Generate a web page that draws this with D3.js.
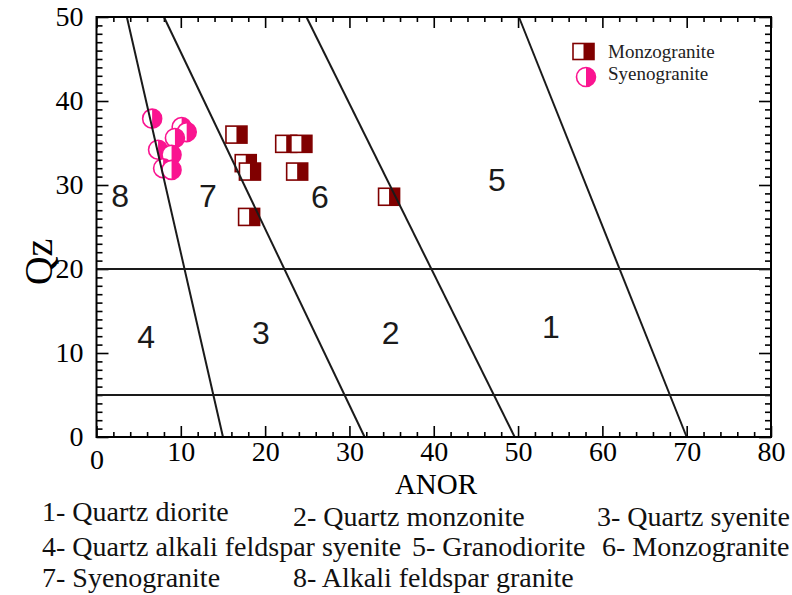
<!DOCTYPE html>
<html>
<head>
<meta charset="utf-8">
<script src="https://cdn.jsdelivr.net/npm/d3@7"></script>
<style>
  html, body { margin: 0; padding: 0; background: #fff; }
  svg { display: block; }
</style>
</head>
<body>
<svg id="chart" width="792" height="595"></svg>
<script>
// ANOR vs Qz classification diagram

// Monzogranite samples
const monzoANOR = [16.6, 22.5, 24.3, 17.7, 18.2, 23.8, 34.7, 18.1];
const monzoQz   = [36.0, 34.9, 34.9, 32.6, 31.6, 31.6, 28.6, 26.2];

// Syenogranite samples
const syenoANOR = [6.6, 10.1, 10.7, 9.3, 7.3, 8.9, 7.9, 8.9];
const syenoQz   = [37.9, 36.9, 36.3, 35.6, 34.2, 33.6, 32.0, 31.8];

// Field boundaries: ANOR where each line meets Qz = 50 and Qz = 0
const boundaryTopANOR    = [3.6, 8.0, 24.9, 50.1];
const boundaryBottomANOR = [15.0, 31.8, 49.6, 70.0];
const horizontalQz = [20, 5];

// Field numbers and their anchor points
const fieldNumbers = ["8", "7", "6", "5", "4", "3", "2", "1"];
const fieldANOR    = [2.8, 13.2, 26.5, 47.5, 5.9, 19.5, 34.9, 53.9];
const fieldQz      = [28.8, 28.8, 28.6, 30.6, 12.0, 12.4, 12.4, 13.1];

const xMajorTicks = [0, 10, 20, 30, 40, 50, 60, 70, 80];
const yMajorTicks = [0, 10, 20, 30, 40, 50];

const fieldNames = [
  "1- Quartz diorite", "2- Quartz monzonite", "3- Quartz syenite",
  "4- Quartz alkali feldspar syenite", "5- Granodiorite", "6- Monzogranite",
  "7- Syenogranite", "8- Alkali feldspar granite"
];
const seriesNames = ["Monzogranite", "Syenogranite"];

const RED = "#800000";
const PINK = "#fa1490";
const SERIF = "'Liberation Serif', 'Times New Roman', serif";
const SANS = "'Liberation Sans', Arial, sans-serif";

const svg = d3.select("#chart");
const plotL = 96.5, plotR = 771, plotT = 17, plotB = 437;

const x = d3.scaleLinear().domain([0, 80]).range([plotL, plotR]);
const y = d3.scaleLinear().domain([0, 50]).range([plotB, plotT]);

svg.append("rect").attr("width", 792).attr("height", 595).attr("fill", "#fff");

// ---- axes ----
function styleAxis(g) {
  g.select(".domain").remove();
  g.selectAll(".tick line").attr("stroke", "#000").attr("stroke-width", 1.6);
}

const xMinor = d3.range(0, 81, 2).filter(v => v % 10 !== 0);
const yMinor = d3.range(0, 51, 1).filter(v => v % 10 !== 0);

// bottom
svg.append("g").attr("transform", `translate(0,${plotB})`)
  .call(d3.axisBottom(x).tickValues(xMinor).tickSize(-5).tickFormat(""))
  .call(styleAxis);
const xAxisG = svg.append("g").attr("transform", `translate(0,${plotB})`)
  .call(d3.axisBottom(x).tickValues(xMajorTicks).tickSize(-11).tickPadding(5).tickFormat(d3.format("d")))
  .call(styleAxis);
xAxisG.selectAll("text")
  .attr("font-family", SERIF).attr("font-size", 28).attr("fill", "#000")
  .attr("y", d => d === 0 ? 12 : 4);

// top
svg.append("g").attr("transform", `translate(0,${plotT})`)
  .call(d3.axisTop(x).tickValues(xMinor).tickSize(-5).tickFormat(""))
  .call(styleAxis);
svg.append("g").attr("transform", `translate(0,${plotT})`)
  .call(d3.axisTop(x).tickValues(xMajorTicks).tickSize(-11).tickFormat(""))
  .call(styleAxis);

// left
svg.append("g").attr("transform", `translate(${plotL},0)`)
  .call(d3.axisLeft(y).tickValues(yMinor).tickSize(-6).tickFormat(""))
  .call(styleAxis);
const yAxisG = svg.append("g").attr("transform", `translate(${plotL},0)`)
  .call(d3.axisLeft(y).tickValues(yMajorTicks).tickSize(-12).tickPadding(13).tickFormat(d3.format("d")))
  .call(styleAxis);
yAxisG.selectAll("text")
  .attr("font-family", SERIF).attr("font-size", 28).attr("fill", "#000");

// right
svg.append("g").attr("transform", `translate(${plotR},0)`)
  .call(d3.axisRight(y).tickValues(yMinor).tickSize(-6).tickFormat(""))
  .call(styleAxis);
svg.append("g").attr("transform", `translate(${plotR},0)`)
  .call(d3.axisRight(y).tickValues(yMajorTicks).tickSize(-12).tickFormat(""))
  .call(styleAxis);

// axis titles
svg.append("text")
  .attr("x", 436).attr("y", 494)
  .attr("text-anchor", "middle")
  .attr("font-family", SERIF).attr("font-size", 29)
  .text("ANOR");
svg.append("text")
  .attr("transform", `translate(52,262) rotate(-90)`)
  .attr("text-anchor", "middle")
  .attr("font-family", SERIF).attr("font-size", 40)
  .text("Qz");

// ---- markers ----
const markers = svg.append("g");

const monzo = monzoANOR.map((a, i) => ({ a, q: monzoQz[i] }));
const syeno = syenoANOR.map((a, i) => ({ a, q: syenoQz[i] }));

function halfSquare(g, cx, cy, w, h) {
  g.append("rect").attr("x", cx - w / 2).attr("y", cy - h / 2)
    .attr("width", w).attr("height", h).attr("fill", "#fff");
  g.append("rect").attr("x", cx).attr("y", cy - h / 2)
    .attr("width", w / 2).attr("height", h).attr("fill", RED);
  g.append("rect").attr("x", cx - w / 2).attr("y", cy - h / 2)
    .attr("width", w).attr("height", h)
    .attr("fill", "none").attr("stroke", RED).attr("stroke-width", 1.6);
}
function halfCircle(g, cx, cy, r) {
  g.append("circle").attr("cx", cx).attr("cy", cy).attr("r", r).attr("fill", "#fff");
  g.append("path")
    .attr("d", `M${cx},${cy - r} A${r},${r} 0 0 1 ${cx},${cy + r} Z`)
    .attr("fill", PINK);
  g.append("circle").attr("cx", cx).attr("cy", cy).attr("r", r)
    .attr("fill", "none").attr("stroke", PINK).attr("stroke-width", 1.6);
}

syeno.forEach(d => halfCircle(markers.append("g"), x(d.a), y(d.q), 9.5));
monzo.forEach(d => halfSquare(markers.append("g"), x(d.a), y(d.q), 21, 17));

// ---- field boundaries ----
const lines = svg.append("g").attr("stroke", "#1a1a1a").attr("stroke-width", 2);
boundaryTopANOR.forEach((t, i) => {
  lines.append("line")
    .attr("x1", x(t)).attr("y1", y(50))
    .attr("x2", x(boundaryBottomANOR[i])).attr("y2", y(0));
});
horizontalQz.forEach(q => {
  lines.append("line")
    .attr("x1", x(0)).attr("y1", y(q))
    .attr("x2", x(80)).attr("y2", y(q));
});

// frame
svg.append("rect")
  .attr("x", plotL).attr("y", plotT)
  .attr("width", plotR - plotL).attr("height", plotB - plotT)
  .attr("fill", "none").attr("stroke", "#000").attr("stroke-width", 2);

// field numbers
svg.append("g").selectAll("text")
  .data(fieldNumbers)
  .join("text")
  .attr("x", (d, i) => x(fieldANOR[i]))
  .attr("y", (d, i) => y(fieldQz[i]))
  .attr("dy", "0.36em")
  .attr("text-anchor", "middle")
  .attr("font-family", SANS).attr("font-size", 32).attr("fill", "#1a1a1a")
  .text(d => d);

// ---- series key ----
const key = svg.append("g");
halfSquare(key.append("g"), 583.5, 51.5, 21, 16);
halfCircle(key.append("g"), 586, 77, 9.5);
key.selectAll("text")
  .data(seriesNames)
  .join("text")
  .attr("x", 608)
  .attr("y", (d, i) => 58 + i * 22)
  .attr("font-family", SERIF).attr("font-size", 19).attr("fill", "#222")
  .text(d => d);

// ---- field name list ----
const listX = [42, 293, 597, 42, 412, 602, 42, 293];
const listY = [521, 526, 526, 556, 556, 556, 587, 587];
svg.append("g").selectAll("text")
  .data(fieldNames)
  .join("text")
  .attr("x", (d, i) => listX[i])
  .attr("y", (d, i) => listY[i])
  .attr("font-family", SERIF).attr("font-size", 28).attr("fill", "#111")
  .text(d => d);
</script>
</body>
</html>
